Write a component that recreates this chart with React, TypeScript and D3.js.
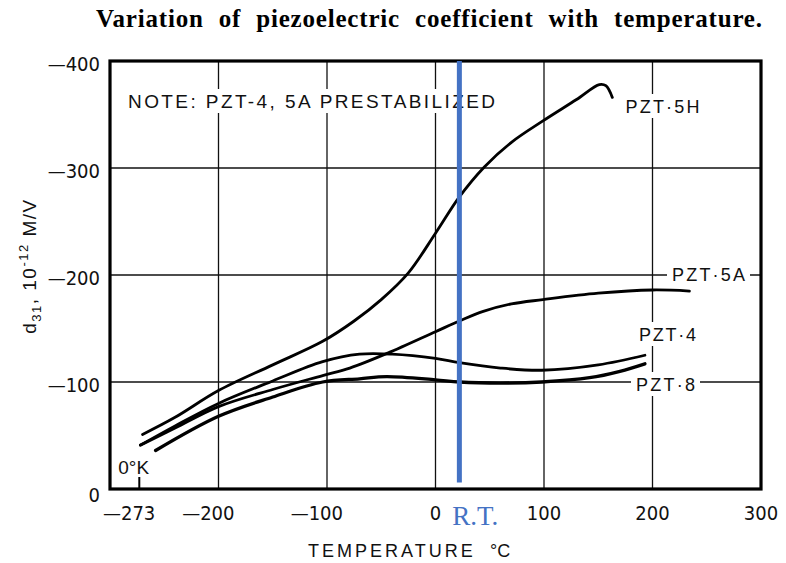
import React from "react";
import * as d3 from "d3";

// temperature in °C, d31 in 10^-12 M/V (negative values, drawn upward)
const tempPZT5H = [-270, -240, -200, -150, -104, -75, -50, -25, 0, 22, 45, 70, 99, 130, 151, 157, 163];
const d31PZT5H = [-51, -67, -92, -116, -138, -157, -177, -202, -239, -273, -301, -324, -344, -364, -378, -377, -366];

const tempPZT5A = [-272, -240, -200, -150, -104, -79, -44, 0, 22, 44, 70, 99, 150, 200, 234];
const d31PZT5A = [-41, -57, -77, -93, -106, -113, -127, -147, -157, -166, -173, -177, -183, -186, -185];

const tempPZT4 = [-272, -240, -200, -150, -104, -70, -40, 0, 22, 60, 98, 150, 193];
const d31PZT4 = [-41, -59, -80, -101, -119, -126, -126, -122, -118, -113, -111, -116, -125];

const tempPZT8 = [-258, -200, -150, -104, -70, -45, 0, 22, 60, 98, 142, 170, 193];
const d31PZT8 = [-36, -68, -86, -100, -103, -105, -102, -100, -99, -100, -104, -110, -117];

const xTicks = [-273, -200, -100, 0, 100, 200, 300];
const yTicks = [0, -100, -200, -300, -400];
const gridX = [-200, -100, 0, 100, 200];
const gridY = [-100, -200, -300];
const roomTemp = 22;

const W = 786;
const H = 563;
const x = d3.scaleLinear().domain([-300, 300]).range([110, 761]);
const y = d3.scaleLinear().domain([0, -400]).range([489, 61]);

const tickFont = "'Liberation Sans Narrow', 'DejaVu Sans Condensed', 'Liberation Sans', sans-serif";
const labelFont = "'Liberation Sans', Arial, sans-serif";
const serif = "'Liberation Serif', 'Times New Roman', serif";

function zip(ts: number[], ds: number[]): [number, number][] {
  return ts.map((t, i) => [t, ds[i]]);
}

const line = d3
  .line<[number, number]>()
  .x((d) => x(d[0]))
  .y((d) => y(d[1]))
  .curve(d3.curveCatmullRom.alpha(0.5));

const series = [
  { name: "PZT-5H", data: zip(tempPZT5H, d31PZT5H), w: 2.8 },
  { name: "PZT-5A", data: zip(tempPZT5A, d31PZT5A), w: 2.8 },
  { name: "PZT-4", data: zip(tempPZT4, d31PZT4), w: 2.8 },
  { name: "PZT-8", data: zip(tempPZT8, d31PZT8), w: 3.3 },
];

// curve labels: sitting on the gridlines with a white gap behind them
const curveLabels = [
  { text: "PZT·5H", cx: x(200) + 10, by: 113, len: 74 },
  { text: "PZT·5A", cx: x(200) + 56, by: 281, len: 73 },
  { text: "PZT·4", cx: x(200) + 15, by: 341, len: 57 },
  { text: "PZT·8", cx: x(200) + 13, by: 391, len: 59 },
];

export default function App() {
  const [x0, x1] = x.range();
  const [y0, y1] = y.range();
  return (
    <svg
      width={W}
      height={H}
      style={{ position: "absolute", left: 0, top: 0, background: "#fff" }}
    >
      <text
        x={96}
        y={27}
        fontFamily={serif}
        fontWeight="bold"
        fontSize={25}
        wordSpacing={8}
        textLength={666}
        lengthAdjust="spacing"
      >
        Variation of piezoelectric coefficient with temperature.
      </text>

      {/* grid */}
      <g stroke="#111" strokeWidth={1.3}>
        {gridX.map((t) => (
          <line key={"gx" + t} x1={x(t)} x2={x(t)} y1={y1} y2={y0} />
        ))}
        {gridY.map((v) => (
          <line key={"gy" + v} x1={x0} x2={x1} y1={y(v)} y2={y(v)} />
        ))}
      </g>

      {/* white gaps behind texts inside the plot */}
      <rect x={124} y={89} width={376} height={24} fill="#fff" />
      {curveLabels.map((l) => (
        <rect
          key={"bg" + l.text}
          x={l.cx - l.len / 2 - 5}
          y={l.by - 19}
          width={l.len + 10}
          height={24}
          fill="#fff"
        />
      ))}

      {/* curves */}
      <g fill="none" stroke="#000" strokeLinecap="round" strokeLinejoin="round">
        {series.map((s) => (
          <path key={s.name} d={line(s.data) || ""} strokeWidth={s.w} />
        ))}
      </g>

      <text
        x={128}
        y={108}
        fontFamily={labelFont}
        fontSize={19}
        textLength={367}
        lengthAdjust="spacing"
        fill="#111"
      >
        NOTE: PZT-4, 5A PRESTABILIZED
      </text>

      {curveLabels.map((l) => (
        <text
          key={l.text}
          x={l.cx - l.len / 2}
          y={l.by}
          fontFamily={labelFont}
          fontSize={18}
          textLength={l.len}
          lengthAdjust="spacing"
          fill="#111"
        >
          {l.text}
        </text>
      ))}

      {/* frame */}
      <rect
        x={x0}
        y={y1}
        width={x1 - x0}
        height={y0 - y1}
        fill="none"
        stroke="#000"
        strokeWidth={3.2}
      />

      {/* 0°K marker */}
      <line x1={x(-273)} x2={x(-273)} y1={y0} y2={y0 - 12} stroke="#000" strokeWidth={2} />
      <text x={x(-273) - 21} y={474} fontFamily={labelFont} fontSize={19} fill="#111">
        0°K
      </text>

      {/* y ticks */}
      {yTicks.map((v) => (
        <text
          key={"yt" + v}
          x={100}
          y={y(v) + (v === 0 ? 13 : 10)}
          textAnchor="end"
          fontFamily={tickFont}
          fontSize={20}
          fill="#111"
        >
          {v < 0 ? "—" + Math.abs(v) : String(v)}
        </text>
      ))}

      {/* x ticks: digits centred on the tick, minus sign hanging to the left */}
      {xTicks.map((t) => (
        <text
          key={"xt" + t}
          x={t < 0 ? x(t) + 16 : x(t)}
          y={520}
          textAnchor={t < 0 ? "end" : "middle"}
          fontFamily={tickFont}
          fontSize={20}
          fill="#111"
        >
          {t < 0 ? "—" + Math.abs(t) : String(t)}
        </text>
      ))}

      {/* axis titles */}
      <text
        transform={`translate(36, 266) rotate(-90)`}
        textAnchor="middle"
        fontFamily={labelFont}
        fontSize={19}
        letterSpacing={1.5}
        fill="#111"
      >
        d
        <tspan fontSize={13} dy={5}>31</tspan>
        <tspan dy={-5}>, 10</tspan>
        <tspan fontSize={13} dy={-8}>-12</tspan>
        <tspan dy={8}> M/V</tspan>
      </text>
      <text
        x={308}
        y={557}
        fontFamily={labelFont}
        fontSize={18}
        letterSpacing={3}
        fill="#111"
      >
        TEMPERATURE
      </text>
      <text x={490} y={557} fontFamily={labelFont} fontSize={18} fill="#111">
        °C
      </text>

      {/* room temperature marker */}
      <line
        x1={x(roomTemp)}
        x2={x(roomTemp)}
        y1={y(-400)}
        y2={y(-6)}
        stroke="#4472C4"
        strokeWidth={5}
      />
      <text
        x={x(roomTemp) + 16}
        y={525}
        textAnchor="middle"
        fontFamily={serif}
        fontSize={27}
        fill="#4472C4"
      >
        R.T.
      </text>
    </svg>
  );
}
